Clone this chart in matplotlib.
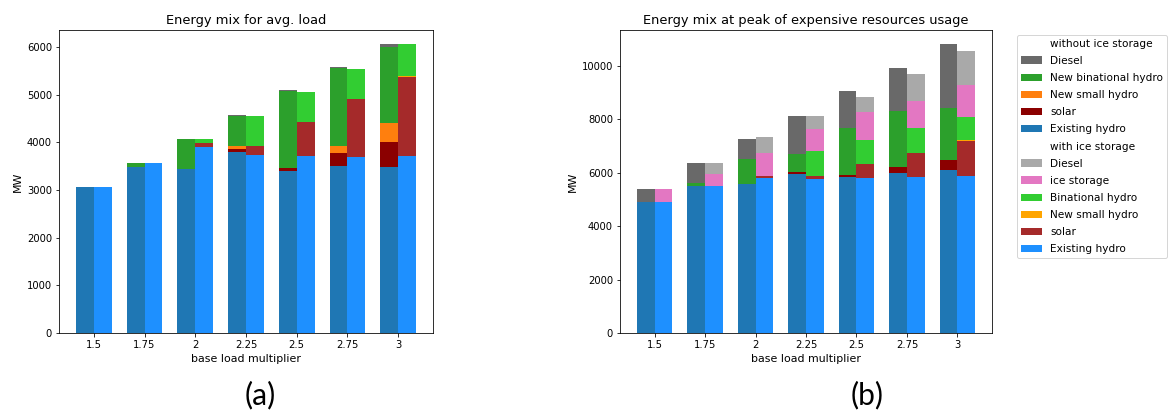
import matplotlib
matplotlib.use("Agg")
import matplotlib.pyplot as plt
from matplotlib.patches import Rectangle
import numpy as np

multipliers = ["1.5", "1.75", "2", "2.25", "2.5", "2.75", "3"]

# (a) average load, MW -- without ice storage
avg_no_existing = [3060, 3487, 3438, 3789, 3396, 3508, 3487]
avg_no_solar = [0, 0, 0, 70, 77, 260, 511]
avg_no_small = [0, 0, 0, 70, 0, 161, 399]
avg_no_binat = [0, 91, 631, 630, 1611, 1638, 1610]
avg_no_diesel = [0, 0, 0, 15, 10, 12, 49]

# (a) average load, MW -- with ice storage
avg_ice_existing = [3060, 3578, 3908, 3746, 3718, 3697, 3718]
avg_ice_solar = [0, 0, 70, 182, 700, 1211, 1659]
avg_ice_small = [0, 0, 0, 0, 0, 0, 21]
avg_ice_binat = [0, 0, 91, 630, 630, 630, 658]
avg_ice_storage = [0, 0, 0, 0, 0, 0, 0]
avg_ice_diesel = [0, 0, 0, 0, 0, 0, 0]

# (b) peak of expensive resources, MW -- without ice storage
peak_no_existing = [4919, 5506, 5593, 5968, 5843, 6005, 6092]
peak_no_solar = [0, 0, 0, 49, 62, 212, 375]
peak_no_small = [0, 0, 0, 0, 0, 0, 0]
peak_no_binat = [0, 125, 911, 700, 1773, 2085, 1960]
peak_no_diesel = [462, 750, 749, 1410, 1386, 1623, 2384]

# (b) peak of expensive resources, MW -- with ice storage
peak_ice_existing = [4919, 5506, 5805, 5755, 5805, 5843, 5880]
peak_ice_solar = [0, 0, 63, 138, 537, 911, 1299]
peak_ice_small = [0, 0, 0, 0, 0, 0, 37]
peak_ice_binat = [0, 0, 0, 911, 874, 924, 874]
peak_ice_storage = [462, 462, 886, 824, 1061, 999, 1211]
peak_ice_diesel = [0, 412, 587, 499, 562, 1036, 1248]

NO_COLORS = {"Existing hydro": "tab:blue", "solar": "darkred",
             "New small hydro": "tab:orange", "New binational hydro": "tab:green",
             "Diesel": "dimgray"}
ICE_COLORS = {"Existing hydro": "dodgerblue", "solar": "brown",
              "New small hydro": "orange", "Binational hydro": "limegreen",
              "ice storage": "tab:pink", "Diesel": "darkgray"}

W = 0.35


def stack(ax, x, layers, colors):
    bottom = np.zeros(len(x))
    handles = {}
    for name, vals in layers:
        vals = np.asarray(vals, dtype=float)
        h = ax.bar(x, vals, W, bottom=bottom, color=colors[name], label=name)
        # only the baseline should stick, not the stacked bottoms
        for patch in h:
            patch.sticky_edges.y[:] = [0]
        handles[name] = h
        bottom += vals
    return handles


def panel(ax, no_layers, ice_layers, title):
    x = np.arange(len(multipliers))
    hn = stack(ax, x - W / 2, no_layers, NO_COLORS)
    hi = stack(ax, x + W / 2, ice_layers, ICE_COLORS)
    ax.set_xticks(x)
    ax.set_xticklabels(multipliers)
    ax.set_xlabel("base load multiplier", fontsize=11)
    ax.set_ylabel("MW", fontsize=11)
    ax.set_title(title, fontsize=13)
    return hn, hi


fig = plt.figure(figsize=(1175 / 72, 417 / 72), dpi=72)
ax1 = fig.add_axes([59 / 1175, 84 / 417, 374 / 1175, 303 / 417])
ax2 = fig.add_axes([620 / 1175, 84 / 417, 372 / 1175, 303 / 417])

panel(ax1,
      [("Existing hydro", avg_no_existing), ("solar", avg_no_solar),
       ("New small hydro", avg_no_small), ("New binational hydro", avg_no_binat),
       ("Diesel", avg_no_diesel)],
      [("Existing hydro", avg_ice_existing), ("solar", avg_ice_solar),
       ("New small hydro", avg_ice_small), ("Binational hydro", avg_ice_binat),
       ("ice storage", avg_ice_storage), ("Diesel", avg_ice_diesel)],
      "Energy mix for avg. load")

hn, hi = panel(ax2,
               [("Existing hydro", peak_no_existing), ("solar", peak_no_solar),
                ("New small hydro", peak_no_small), ("New binational hydro", peak_no_binat),
                ("Diesel", peak_no_diesel)],
               [("Existing hydro", peak_ice_existing), ("solar", peak_ice_solar),
                ("New small hydro", peak_ice_small), ("Binational hydro", peak_ice_binat),
                ("ice storage", peak_ice_storage), ("Diesel", peak_ice_diesel)],
               "Energy mix at peak of expensive resources usage")

blank = Rectangle((0, 0), 1, 1, visible=False)
no_order = ["Diesel", "New binational hydro", "New small hydro", "solar", "Existing hydro"]
ice_order = ["Diesel", "ice storage", "Binational hydro", "New small hydro", "solar", "Existing hydro"]
handles = [blank] + [hn[k] for k in no_order] + [blank] + [hi[k] for k in ice_order]
labels = ["without ice storage"] + no_order + ["with ice storage"] + ice_order
fig.legend(handles, labels, loc="upper left", fontsize=10.5,
           bbox_to_anchor=(1017 / 1175, 1 - 35 / 417), borderaxespad=0,
           borderpad=0.35, handlelength=2.0, handletextpad=0.8, labelspacing=0.68)

fig.text(260 / 1175, 1 - 395 / 417, "(a)", fontsize=30, family="Lato",
         ha="center", va="center")
fig.text(867 / 1175, 1 - 395 / 417, "(b)", fontsize=30, family="Lato",
         ha="center", va="center")

fig.savefig("out.png", dpi=72)
